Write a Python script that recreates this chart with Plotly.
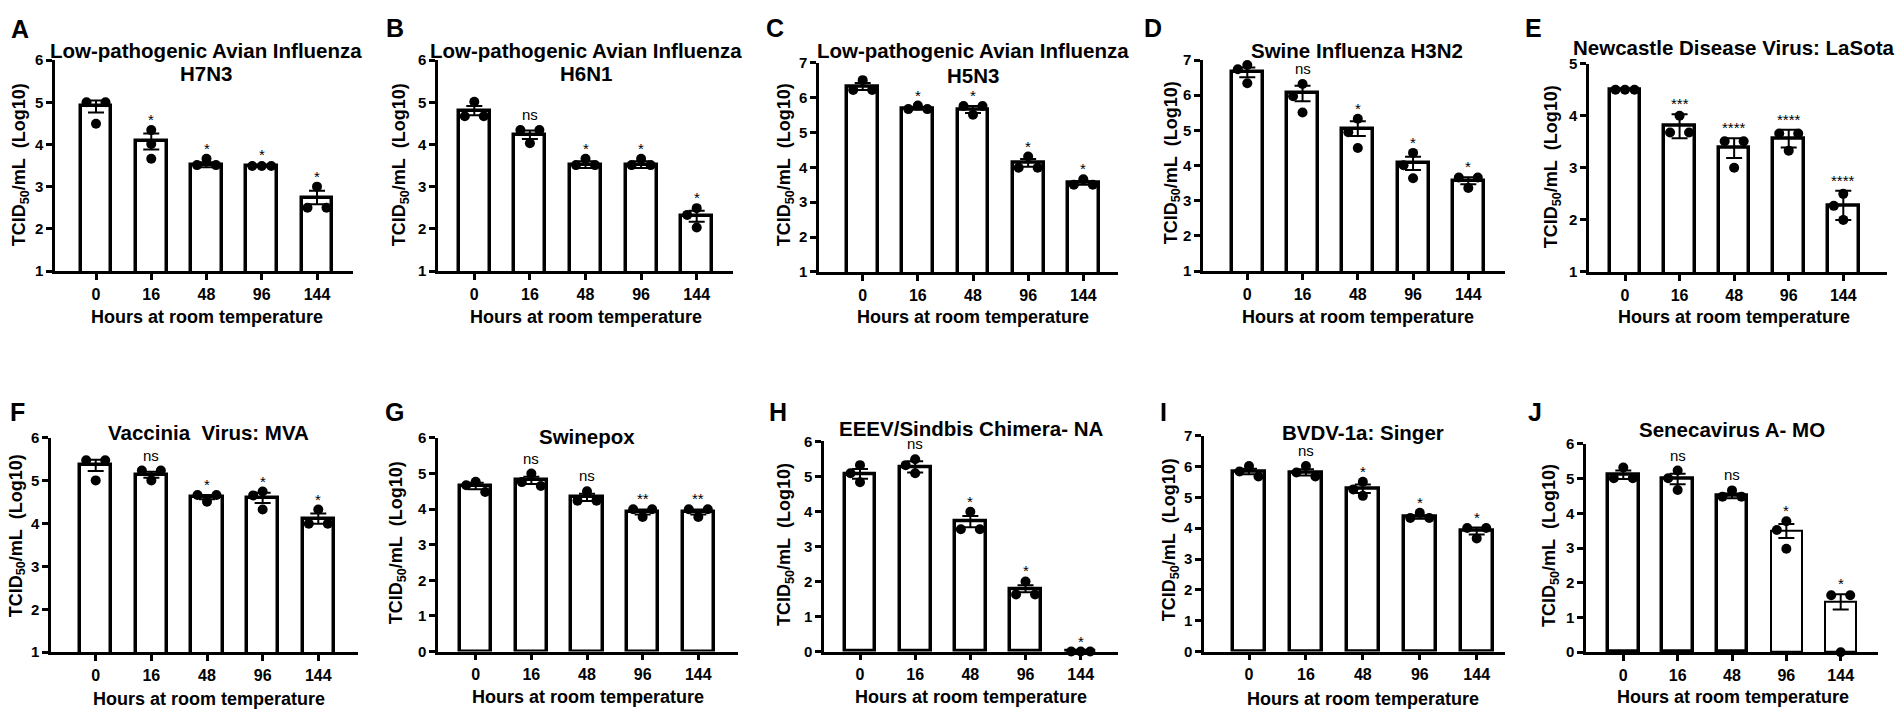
import plotly.graph_objects as go

W, H = 1902, 724
FONT = "Liberation Sans, Arial, Helvetica, sans-serif"

HOURS = ["0", "16", "48", "96", "144"]
LETTERS = ["A", "B", "C", "D", "E", "F", "G", "H", "I", "J"]
TITLES = [
    ["Low-pathogenic Avian Influenza", "H7N3"],
    ["Low-pathogenic Avian Influenza", "H6N1"],
    ["Low-pathogenic Avian Influenza", "H5N3"],
    ["Swine Influenza H3N2"],
    ["Newcastle Disease Virus: LaSota"],
    ["Vaccinia\u00a0 Virus: MVA"],
    ["Swinepox"],
    ["EEEV/Sindbis Chimera- NA"],
    ["BVDV-1a: Singer"],
    ["Senecavirus A- MO"],
]
Y_TITLE = "TCID<sub>50</sub>/mL\u00a0 (Log10)"
X_TITLE = "Hours at room temperature"

# ---- data (log10 TCID50/mL), bar = mean, err = error bar, reps = replicate dots ----
A_MEAN = [4.90, 4.07, 3.52, 3.49, 2.74]
A_ERR = [0.14, 0.19, 0.06, 0.02, 0.16]
A_REPS = [[5.00, 5.00, 4.49], [4.34, 4.01, 3.66], [3.66, 3.51, 3.51], [3.49, 3.49, 3.49], [3.00, 2.50, 2.50]]
A_SIG = ["", "*", "*", "*", "*"]

B_MEAN = [4.80, 4.23, 3.52, 3.52, 2.30]
B_ERR = [0.11, 0.10, 0.08, 0.08, 0.13]
B_REPS = [[5.01, 4.67, 4.67], [4.34, 4.34, 4.03], [3.66, 3.51, 3.51], [3.66, 3.51, 3.51], [2.49, 2.33, 2.03]]
B_SIG = ["", "ns", "*", "*", "*"]

C_MEAN = [6.32, 5.69, 5.66, 4.13, 3.55]
C_ERR = [0.10, 0.04, 0.10, 0.11, 0.05]
C_REPS = [[6.50, 6.22, 6.22], [5.77, 5.67, 5.67], [5.76, 5.76, 5.51], [4.31, 3.99, 3.99], [3.66, 3.50, 3.50]]
C_SIG = ["", "*", "*", "*", "*"]

D_MEAN = [6.65, 6.05, 5.05, 4.06, 3.57]
D_ERR = [0.14, 0.22, 0.21, 0.19, 0.10]
D_REPS = [[6.86, 6.74, 6.34], [6.32, 5.97, 5.51], [5.33, 4.95, 4.50], [4.36, 4.01, 3.64], [3.66, 3.66, 3.36]]
D_SIG = ["", "ns", "*", "*", "*"]

E_MEAN = [4.50, 3.80, 3.38, 3.56, 2.28]
E_ERR = [0.00, 0.23, 0.19, 0.17, 0.28]
E_REPS = [[4.50, 4.50, 4.50], [4.00, 3.68, 3.68], [3.51, 3.51, 3.00], [3.66, 3.66, 3.33], [2.50, 2.27, 2.00]]
E_SIG = ["", "***", "****", "****", "****"]

F_MEAN = [5.36, 5.14, 4.62, 4.60, 4.12]
F_ERR = [0.13, 0.07, 0.05, 0.12, 0.12]
F_REPS = [[5.48, 5.48, 5.01], [5.24, 5.24, 5.01], [4.67, 4.67, 4.51], [4.75, 4.66, 4.33], [4.33, 4.00, 4.00]]
F_SIG = ["", "ns", "*", "*", "*"]

G_MEAN = [4.65, 4.81, 4.33, 3.92, 3.92]
G_ERR = [0.09, 0.10, 0.10, 0.07, 0.07]
G_REPS = [[4.77, 4.67, 4.48], [5.00, 4.76, 4.65], [4.50, 4.24, 4.24], [4.00, 4.00, 3.78], [4.00, 4.00, 3.78]]
G_SIG = ["", "ns", "ns", "**", "**"]

H_MEAN = [5.07, 5.27, 3.71, 1.79, 0.00]
H_ERR = [0.14, 0.16, 0.16, 0.10, 0.00]
H_REPS = [[5.32, 5.09, 4.83], [5.49, 5.32, 5.09], [3.99, 3.49, 3.49], [2.00, 1.63, 1.63], [0.00, 0.00, 0.00]]
H_SIG = ["", "ns", "*", "*", "*"]

I_MEAN = [5.84, 5.81, 5.28, 4.36, 3.91]
I_ERR = [0.09, 0.10, 0.14, 0.05, 0.11]
I_REPS = [[6.02, 5.84, 5.68], [6.02, 5.81, 5.68], [5.51, 5.26, 5.05], [4.50, 4.33, 4.33], [4.01, 4.01, 3.67]]
I_SIG = ["", "ns", "*", "*", "*"]

J_MEAN = [5.11, 4.99, 4.50, 3.49, 1.45]
J_ERR = [0.12, 0.15, 0.07, 0.20, 0.22]
J_REPS = [[5.32, 5.01, 5.01], [5.23, 5.01, 4.67], [4.66, 4.48, 4.48], [3.77, 3.52, 2.98], [1.64, 1.64, 0.00]]
J_SIG = ["", "ns", "ns", "*", "*"]

Y_RANGES = [(1, 6), (1, 6), (1, 7), (1, 7), (1, 5), (1, 6), (0, 6), (0, 6), (0, 7), (0, 6)]

MEANS = [A_MEAN, B_MEAN, C_MEAN, D_MEAN, E_MEAN, F_MEAN, G_MEAN, H_MEAN, I_MEAN, J_MEAN]
ERRS = [A_ERR, B_ERR, C_ERR, D_ERR, E_ERR, F_ERR, G_ERR, H_ERR, I_ERR, J_ERR]
REPS = [A_REPS, B_REPS, C_REPS, D_REPS, E_REPS, F_REPS, G_REPS, H_REPS, I_REPS, J_REPS]
SIGS = [A_SIG, B_SIG, C_SIG, D_SIG, E_SIG, F_SIG, G_SIG, H_SIG, I_SIG, J_SIG]

# ---- layout geometry in pixels (left axis, first tick, last tick, right end, top, bottom) ----
GEOM = [
    dict(l=55, f=96, la=317, r=353, t=52.3, b=268.3, letter=(20, 20), tx=206, ty=[43, 66], yt=(20, 160), xt=(206.7, 315)),
    dict(l=438, f=474.3, la=696.7, r=733.3, t=52.3, b=268.3, letter=(395, 19), tx=586, ty=[43, 66], yt=(400, 160), xt=(585.8, 315)),
    dict(l=819, f=862.7, la=1083.3, r=1118.3, t=55, b=269.3, letter=(775, 19), tx=973, ty=[43, 68], yt=(785, 160), xt=(972.5, 315)),
    dict(l=1203, f=1247.3, la=1468.3, r=1505, t=52.3, b=268.3, letter=(1153, 19), tx=1357, ty=[42], yt=(1172, 158), xt=(1358, 315)),
    dict(l=1589, f=1625, la=1843.3, r=1886.7, t=56, b=269.3, letter=(1533, 19), tx=1734, ty=[39], yt=(1552, 162), xt=(1734, 315)),
    dict(l=51, f=95.7, la=318.3, r=358.3, t=439.3, b=658.7, letter=(17, 413), tx=208, ty=[434], yt=(17, 540), xt=(209, 707)),
    dict(l=438, f=475.7, la=698.3, r=738.3, t=439.3, b=658, letter=(394, 413), tx=587, ty=[438], yt=(397, 547), xt=(588, 705)),
    dict(l=824, f=860, la=1080.7, r=1118.3, t=442.7, b=658, letter=(778, 413), tx=971, ty=[430], yt=(785, 549), xt=(971, 705)),
    dict(l=1204, f=1249, la=1476.7, r=1505, t=437, b=658, letter=(1163, 413), tx=1363, ty=[434], yt=(1170, 544), xt=(1363, 707)),
    dict(l=1586, f=1623.3, la=1840.7, r=1878.3, t=445.3, b=658.7, letter=(1535, 413), tx=1732, ty=[431], yt=(1550, 550), xt=(1732.5, 705)),
]

BAR_LINE = [[3.5] * 5] * 9 + [[3.5, 3.5, 3.5, 2.0, 2.0]]
DOT_STEP_PX = 9.5
CONFLICT_PX = 14


def px(x):
    return x / W


def py(y):
    return 1 - y / H


def dot_slots(vals, ppu):
    n = len(vals)
    order = sorted(range(n), key=lambda i: -vals[i])
    slot = [None] * n
    used = set()
    for a in order:
        if a in used:
            continue
        grp = [b for b in order if b not in used and abs(vals[b] - vals[a]) * ppu < 3]
        if len(grp) >= 2:
            pattern = [-1, 1] if len(grp) == 2 else [-1, 0, 1]
            for b, s in zip(grp, pattern):
                slot[b] = s
                used.add(b)
    for a in order:
        if slot[a] is not None:
            continue
        chosen = 0
        for s in (0, -1, 1):
            ok = all(
                slot[b] != s or abs(vals[b] - vals[a]) * ppu >= CONFLICT_PX
                for b in range(n) if slot[b] is not None
            )
            if ok:
                chosen = s
                break
        slot[a] = chosen
    return slot


fig = go.Figure()
annotations = []
layout_axes = {}

for k in range(10):
    g = GEOM[k]
    ymin, ymax = Y_RANGES[k]
    sfx = "" if k == 0 else str(k + 1)
    xa, ya = "x" + sfx, "y" + sfx
    spacing = (g["la"] - g["f"]) / 4.0
    x0 = -(g["f"] - g["l"]) / spacing
    x1 = 4 + (g["r"] - g["la"]) / spacing
    ppu = (g["b"] - g["t"]) / (ymax - ymin)
    step = DOT_STEP_PX / spacing

    cats = list(range(len(HOURS)))
    fig.add_trace(go.Bar(
        x=cats, y=MEANS[k], width=0.56, xaxis=xa, yaxis=ya,
        marker=dict(color="white", line=dict(color="black", width=BAR_LINE[k])),
        error_y=dict(type="data", array=ERRS[k], visible=True, color="black", thickness=2, width=8),
        hoverinfo="skip",
    ))
    dx, dy = [], []
    for i, vals in enumerate(REPS[k]):
        slots = dot_slots(vals, ppu)
        for v, s in zip(vals, slots):
            dx.append(i + s * step)
            dy.append(v)
    fig.add_trace(go.Scatter(
        x=dx, y=dy, mode="markers", xaxis=xa, yaxis=ya, cliponaxis=False,
        marker=dict(color="black", size=10, line=dict(width=0)), hoverinfo="skip",
    ))

    for i, lab in enumerate(SIGS[k]):
        if not lab:
            continue
        top = max(max(REPS[k][i]), MEANS[k][i] + ERRS[k][i])
        is_star = "*" in lab
        annotations.append(dict(
            x=i, y=top, xref=xa, yref=ya, text=lab, showarrow=False,
            yanchor="bottom", yshift=0 if is_star else 5,
            font=dict(family=FONT, size=15, color="black"),
        ))

    axis_common = dict(
        showline=True, linecolor="black", linewidth=2.5, ticks="outside", ticklen=6,
        tickwidth=2.5, tickcolor="black", showgrid=False, zeroline=False,
    )
    layout_axes["xaxis" + sfx] = dict(
        domain=[px(g["l"]), px(g["r"])], range=[x0, x1], anchor=ya,
        tickmode="array", tickvals=cats, ticktext=HOURS, ticklabelstandoff=1,
        tickfont=dict(family=FONT, size=16, color="black", weight="bold"), **axis_common,
    )
    layout_axes["yaxis" + sfx] = dict(
        domain=[py(g["b"]), py(g["t"])], range=[ymin, ymax], anchor=xa,
        tickmode="linear", tick0=0, dtick=1,
        tickfont=dict(family=FONT, size=15, color="black", weight="bold"), **axis_common,
    )

    # panel letter
    annotations.append(dict(
        x=px(g["letter"][0]), y=py(g["letter"][1]), xref="paper", yref="paper",
        text=LETTERS[k], showarrow=False, xanchor="center", yanchor="middle",
        font=dict(family=FONT, size=25, color="black", weight="bold"),
    ))
    # title lines
    for line, yy in zip(TITLES[k], g["ty"]):
        annotations.append(dict(
            x=px(g["tx"]), y=py(yy), xref="paper", yref="paper", text=line,
            showarrow=False, xanchor="center", yanchor="middle",
            font=dict(family=FONT, size=20.5, color="black", weight="bold"),
        ))
    # y title
    annotations.append(dict(
        x=px(g["yt"][0]), y=py(g["yt"][1]), xref="paper", yref="paper", text=Y_TITLE,
        showarrow=False, textangle=-90, xanchor="center", yanchor="middle",
        font=dict(family=FONT, size=18, color="black", weight="bold"),
    ))
    # x title
    annotations.append(dict(
        x=px(g["xt"][0]), y=py(g["xt"][1]), xref="paper", yref="paper", text=X_TITLE,
        showarrow=False, xanchor="center", yanchor="middle",
        font=dict(family=FONT, size=18, color="black", weight="bold"),
    ))

fig.update_layout(
    width=W, height=H, margin=dict(l=0, r=0, t=0, b=0),
    paper_bgcolor="white", plot_bgcolor="white", showlegend=False,
    annotations=annotations, bargap=0, **layout_axes,
)

fig.write_html(
    "out.html",
    config={"displayModeBar": False},
    post_script="document.body.style.margin='0px';",
)
